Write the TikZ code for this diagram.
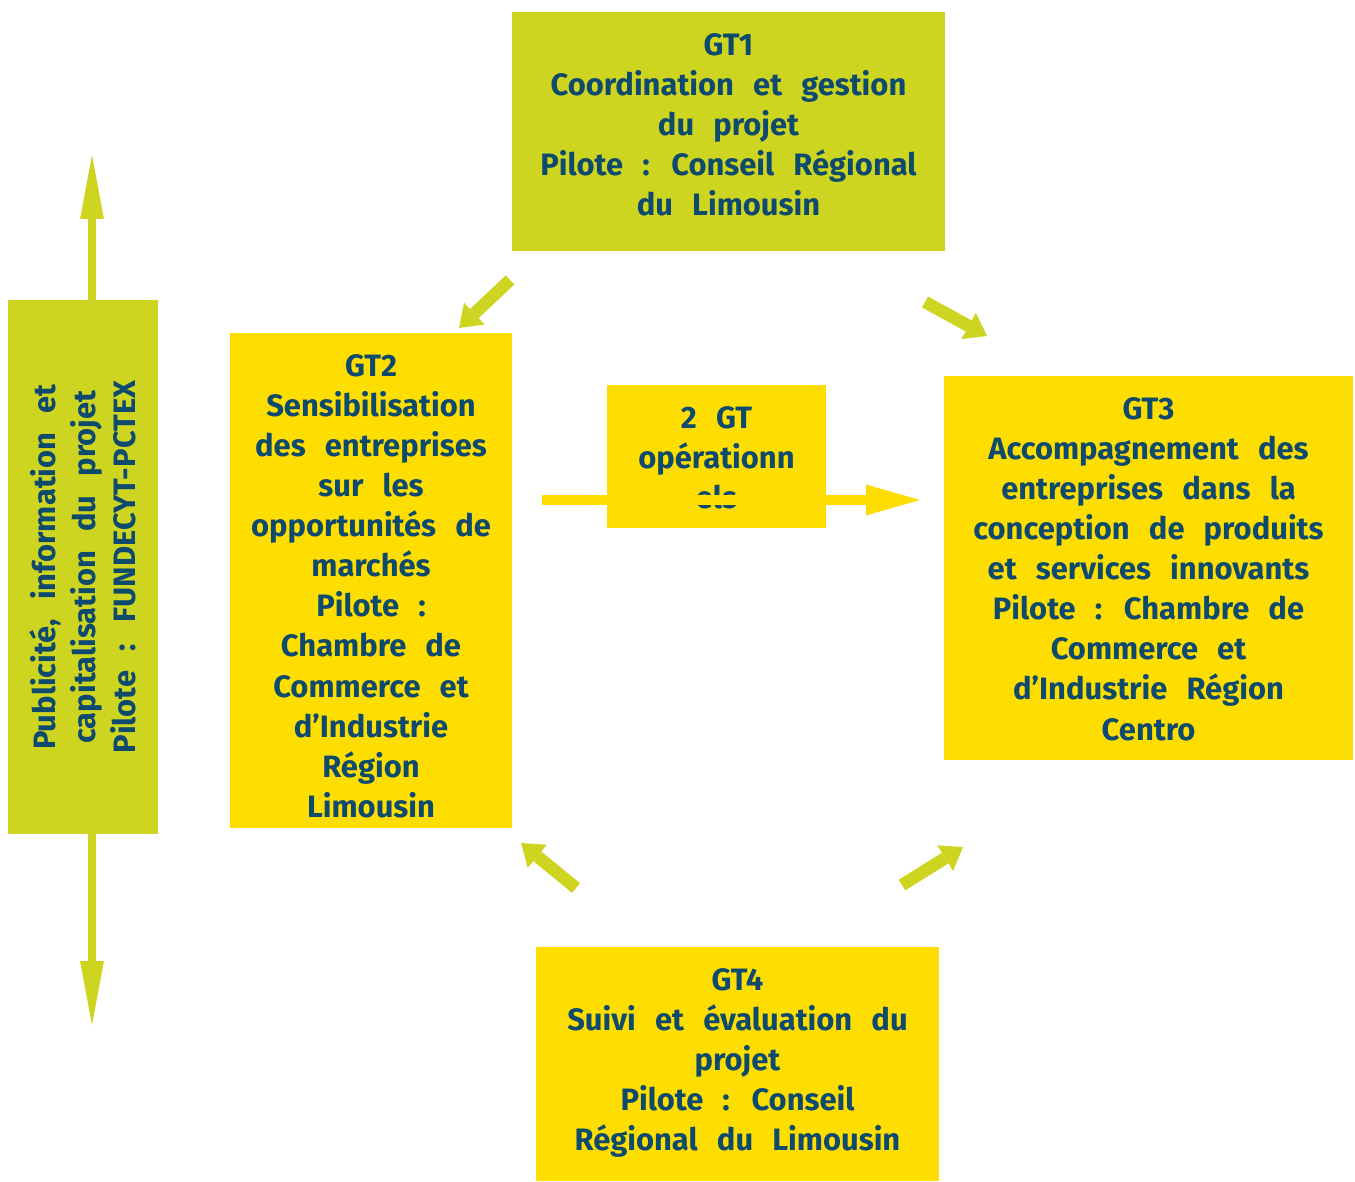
\documentclass[tikz,border=0pt]{standalone}
\usepackage{fontspec}
\setmainfont{Fira Sans}
\usetikzlibrary{arrows.meta}
\definecolor{lime}{HTML}{CDD520}
\definecolor{gold}{HTML}{FEDD00}
\definecolor{ink}{HTML}{0E4A6E}
\newcommand{\gtfont}{\fontsize{17.6}{22.8}\selectfont\bfseries\spaceskip=0.62em plus 0.1em\relax}

\begin{document}
\begin{tikzpicture}[x=0.02cm, y=-0.02cm,
    box/.style={inner sep=0pt, align=center, text=ink, font=\gtfont},
    % #1 = box height, #2 = number of lines below the first one
    topbox/.style 2 args={box, minimum height=#1,
        text height=0.87cm+#2*22.8pt, text depth=#1-0.87cm-#2*22.8pt},
    blockarrow/.style={color=lime, line width=0.25cm,
        -{Triangle[length=0.42cm, width=0.6cm, line width=0pt]}},
    sidearrow/.style={color=lime, line width=0.16cm,
        -{Triangle[length=1.28cm, width=0.48cm, line width=0pt]}},
    midarrow/.style={color=gold, line width=0.2cm,
        -{Triangle[length=1.08cm, width=0.62cm, line width=0pt]}}]
\useasboundingbox (0,0) rectangle (1355,1182);

\node (gtone) at (728.5,131.5) [topbox={4.78cm}{4}, fill=lime, minimum width=8.66cm]
    {GT1\\Coordination et gestion\\du projet\\Pilote : Conseil Régional\\du Limousin};
\node (gttwo) at (371,580.5) [topbox={9.9cm}{11}, fill=gold, minimum width=5.64cm]
    {GT2\\Sensibilisation\\des entreprises\\sur les\\opportunités de\\marchés\\Pilote :\\Chambre de\\Commerce et\\d’Industrie\\Région\\Limousin};
\node (gtthree) at (1148.5,568) [topbox={7.68cm}{8}, fill=gold, minimum width=8.18cm]
    {GT3\\Accompagnement des\\entreprises dans la\\conception de produits\\et services innovants\\Pilote : Chambre de\\Commerce et\\d’Industrie Région\\Centro};
\node (gtfour) at (737.5,1064) [topbox={4.68cm}{4}, fill=gold, minimum width=8.06cm]
    {GT4\\Suivi et évaluation du\\projet\\Pilote : Conseil\\Régional du Limousin};
\node (ops) at (716.5,456.5) [topbox={2.86cm}{2}, fill=gold, minimum width=4.38cm]
    {2 GT\\opérationn\\els};
\node (comm) at (83,567) [box, fill=lime, rotate=90, minimum width=10.68cm, minimum height=3cm]
    {Publicité, information et\\capitalisation du projet\\Pilote : FUNDECYT-PCTEX};

% loose ends of the arrows
\coordinate (opsin) at (542,500);
\coordinate (opsout) at (920,500);
\coordinate (upend) at (92,155);
\coordinate (downend) at (92,1025);
\coordinate (tlfrom) at (510,280);
\coordinate (tlto) at (459,328);
\coordinate (trfrom) at (925,302);
\coordinate (trto) at (987,336);
\coordinate (blfrom) at (576,888);
\coordinate (blto) at (521,843);
\coordinate (brfrom) at (902,885);
\coordinate (brto) at (963,847);

\path[midarrow]
    (opsin) edge (opsout);

\path[sidearrow]
    (comm.east -| upend) edge (upend)
    (comm.west -| downend) edge (downend);

\path[blockarrow]
    (tlfrom) edge (tlto)
    (trfrom) edge (trto)
    (blfrom) edge (blto)
    (brfrom) edge (brto);
\end{tikzpicture}
\end{document}
